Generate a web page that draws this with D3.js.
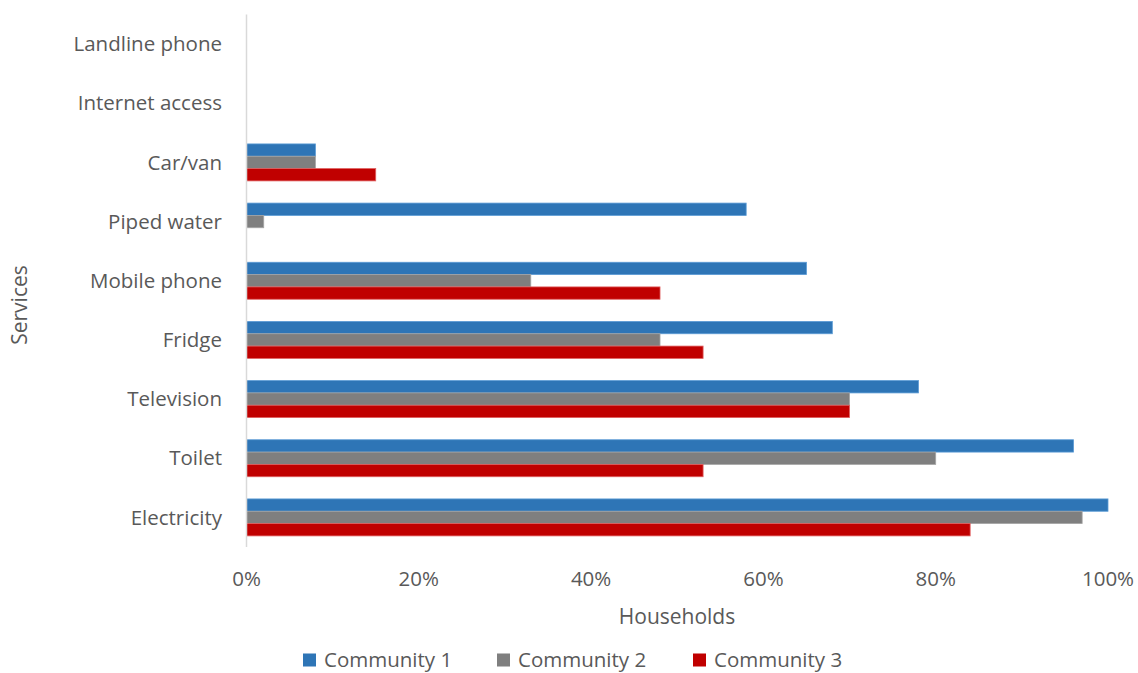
<!DOCTYPE html>
<html>
<head>
<meta charset="utf-8">
<script src="https://cdn.jsdelivr.net/npm/d3@7"></script>
<style>
  body { margin: 0; background: #fff; }
  text { font-family: "Open Sans", sans-serif; fill: #595959; }
</style>
</head>
<body>
<div id="chart"></div>
<script>
// Data (top to bottom)
const categories = ['Landline phone', 'Internet access', 'Car/van', 'Piped water', 'Mobile phone', 'Fridge', 'Television', 'Toilet', 'Electricity']
const seriesNames = ['Community 1', 'Community 2', 'Community 3']
const community1 = [0, 0, 8, 58, 65, 68, 78, 96, 100]
const community2 = [0, 0, 8, 2, 33, 48, 70, 80, 97]
const community3 = [0, 0, 15, 0, 48, 53, 70, 53, 84]
const xTicks = [0, 20, 40, 60, 80, 100]
const colors = ['#2E75B6', '#7F7F7F', '#C00000']
const strokes = ['#5B9BD5', '#A5A5A5', '#E06060']

const W = 1138
const H = 673
const margin = { top: 14.5, right: 30, bottom: 126, left: 246.5 }

const svg = d3.select('#chart')
  .append('svg')
  .attr('width', W)
  .attr('height', H)

const x = d3.scaleLinear()
  .domain([0, 100])
  .range([margin.left, 1108])

const y = d3.scaleBand()
  .domain(categories)
  .range([margin.top, H - margin.bottom])
  .paddingInner(0.375)
  .paddingOuter(0.1875)

const inner = d3.scaleBand()
  .domain(seriesNames)
  .range([0, y.bandwidth()])

const rows = categories.map((c, i) => ({
  cat: c,
  values: [community1[i], community2[i], community3[i]]
}))

// Bars
const groups = svg.selectAll('g.row')
  .data(rows)
  .enter()
  .append('g')
  .attr('class', 'row')
  .attr('transform', d => `translate(0,${y(d.cat)})`)

groups.selectAll('rect')
  .data(d => d.values.map((v, k) => ({ v, k })).filter(e => e.v > 0))
  .enter()
  .append('rect')
  .attr('x', x(0))
  .attr('y', d => inner(seriesNames[d.k]))
  .attr('width', d => x(d.v) - x(0))
  .attr('height', inner.bandwidth())
  .attr('fill', d => colors[d.k])
  .attr('stroke', d => strokes[d.k])
  .attr('stroke-width', 0.8)

// Category axis line
svg.append('line')
  .attr('x1', x(0)).attr('x2', x(0))
  .attr('y1', margin.top).attr('y2', H - margin.bottom)
  .attr('stroke', '#D9D9D9')
  .attr('stroke-width', 1.5)

// Category labels
svg.selectAll('text.cat')
  .data(categories)
  .enter()
  .append('text')
  .attr('class', 'cat')
  .attr('x', 222)
  .attr('y', d => y(d) + y.bandwidth() / 2)
  .attr('dy', '0.35em')
  .attr('text-anchor', 'end')
  .attr('font-size', 20.5)
  .text(d => d)

// X tick labels
svg.selectAll('text.tick')
  .data(xTicks)
  .enter()
  .append('text')
  .attr('class', 'tick')
  .attr('x', d => x(d))
  .attr('y', 579)
  .attr('dy', '0.35em')
  .attr('text-anchor', 'middle')
  .attr('font-size', 20.5)
  .text(d => d + '%')

// Axis titles
svg.append('text')
  .attr('x', 677)
  .attr('y', 617)
  .attr('dy', '0.35em')
  .attr('text-anchor', 'middle')
  .attr('font-size', 21)
  .text('Households')

svg.append('text')
  .attr('transform', 'translate(20,305) rotate(-90)')
  .attr('dy', '0.35em')
  .attr('text-anchor', 'middle')
  .attr('font-size', 21)
  .text('Services')

// Legend
const legendX = [303, 497, 693]
const legend = svg.selectAll('g.legend')
  .data(seriesNames)
  .enter()
  .append('g')
  .attr('class', 'legend')
  .attr('transform', (d, i) => `translate(${legendX[i]},660)`)

legend.append('rect')
  .attr('x', 0)
  .attr('y', -6.5)
  .attr('width', 13)
  .attr('height', 13)
  .attr('fill', (d, i) => colors[i])

legend.append('text')
  .attr('x', 21)
  .attr('dy', '0.35em')
  .attr('font-size', 20.5)
  .text(d => d)
</script>
</body>
</html>
